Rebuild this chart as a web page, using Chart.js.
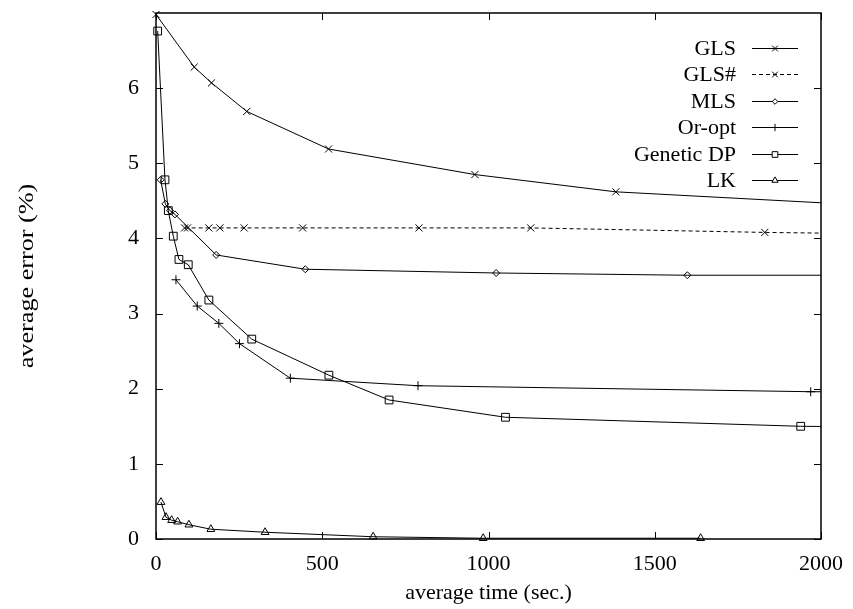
<!DOCTYPE html>
<html>
<head>
<meta charset="utf-8">
<script src="https://cdn.jsdelivr.net/npm/chart.js@4/dist/chart.umd.min.js"></script>
<style>
  html, body { margin: 0; padding: 0; background: #fff; }
  #wrap { width: 853px; height: 609px; }
</style>
</head>
<body>
<div id="wrap"><canvas id="c" width="853" height="609"></canvas></div>
<script>
// ---- data ----
const seriesNames = ['GLS', 'GLS#', 'MLS', 'Or-opt', 'Genetic DP', 'LK'];

const glsX = [0, 115, 167, 273, 519, 959, 1383, 2400];
const glsY = [6.98, 6.28, 6.07, 5.69, 5.19, 4.85, 4.62, 4.38];

const glsSharpX = [86, 95, 159, 192, 265, 441, 791, 1127, 1831, 2200];
const glsSharpY = [4.14, 4.14, 4.14, 4.14, 4.14, 4.14, 4.14, 4.14, 4.08, 4.06];

const mlsX = [14, 28, 42, 57, 181, 449, 1023, 1598, 2200];
const mlsY = [4.78, 4.46, 4.37, 4.32, 3.78, 3.59, 3.54, 3.51, 3.51];

const orOptX = [60, 124, 189, 251, 404, 788, 1969, 2200];
const orOptY = [3.45, 3.10, 2.87, 2.60, 2.14, 2.04, 1.96, 1.96];

const gdpX = [5, 27, 37, 52, 69, 97, 159, 288, 520, 701, 1051, 1939, 2200];
const gdpY = [6.76, 4.78, 4.37, 4.03, 3.72, 3.65, 3.18, 2.66, 2.18, 1.85, 1.62, 1.50, 1.49];

const lkX = [15, 30, 47, 65, 99, 165, 328, 653, 984, 1638];
const lkY = [0.49, 0.29, 0.25, 0.23, 0.19, 0.13, 0.09, 0.03, 0.01, 0.01];

const xTicks = [0, 500, 1000, 1500, 2000];
const yTicks = [0, 1, 2, 3, 4, 5, 6];

const xTitle = 'average time (sec.)';
const yTitle = 'average error (%)';

// ---- helpers ----
const FONT = '"Liberation Serif", "DejaVu Serif", serif';
const pts = (xs, ys) => xs.map((x, i) => ({ x: x, y: ys[i] }));

function ds(label, xs, ys, style, radius, dash) {
  return {
    label: label,
    data: pts(xs, ys),
    borderColor: '#000',
    backgroundColor: 'rgba(0,0,0,0)',
    borderWidth: 1,
    borderDash: dash || [],
    pointStyle: style,
    pointRadius: radius,
    pointHoverRadius: radius,
    pointBorderColor: '#000',
    pointBackgroundColor: 'rgba(0,0,0,0)',
    pointBorderWidth: 1,
    tension: 0,
    fill: false,
    clip: { left: 12, top: 12, right: 0, bottom: 12 }
  };
}

const datasets = [
  ds(seriesNames[0], glsX, glsY, 'crossRot', 5),
  ds(seriesNames[1], glsSharpX, glsSharpY, 'crossRot', 5, [4, 3]),
  ds(seriesNames[2], mlsX, mlsY, 'rectRot', 3.5),
  ds(seriesNames[3], orOptX, orOptY, 'cross', 4.5),
  ds(seriesNames[4], gdpX, gdpY, 'rect', 5.5),
  ds(seriesNames[5], lkX, lkY, 'triangle', 4.5)
];

// frame with inward ticks (gnuplot style)
const framePlugin = {
  id: 'frame',
  afterDatasetsDraw(chart) {
    const { ctx, chartArea: a, scales } = chart;
    const xs = scales.x, ys = scales.y;
    ctx.save();
    ctx.strokeStyle = '#000';
    ctx.lineWidth = 1.5;
    ctx.strokeRect(a.left, a.top, a.right - a.left, a.bottom - a.top);
    ctx.lineWidth = 1;
    ctx.beginPath();
    const TL = 7;
    xTicks.forEach(v => {
      const px = Math.round(xs.getPixelForValue(v)) + 0.5;
      ctx.moveTo(px, a.bottom); ctx.lineTo(px, a.bottom - TL);
      ctx.moveTo(px, a.top); ctx.lineTo(px, a.top + TL);
    });
    yTicks.forEach(v => {
      const py = Math.round(ys.getPixelForValue(v)) + 0.5;
      ctx.moveTo(a.left, py); ctx.lineTo(a.left + TL, py);
      ctx.moveTo(a.right, py); ctx.lineTo(a.right - TL, py);
    });
    ctx.stroke();
    ctx.restore();
  }
};

// y-axis title (rotated, slightly stretched along its length like the reference)
const yTitlePlugin = {
  id: 'yTitle',
  afterDraw(chart) {
    const { ctx, chartArea: a } = chart;
    ctx.save();
    ctx.translate(27, (a.top + a.bottom) / 2);
    ctx.rotate(-Math.PI / 2);
    ctx.scale(1.19, 1);
    ctx.font = '22px ' + FONT;
    ctx.fillStyle = '#000';
    ctx.textAlign = 'center';
    ctx.textBaseline = 'middle';
    ctx.fillText(yTitle, 0, 0);
    ctx.restore();
  }
};

// legend: text right-aligned, sample line with marker on the right
const legendPlugin = {
  id: 'gpLegend',
  afterDraw(chart) {
    const { ctx } = chart;
    const textRight = 736, x0 = 752, x1 = 798, yStart = 47.5, step = 26.5;
    ctx.save();
    ctx.font = '22px ' + FONT;
    ctx.textAlign = 'right';
    ctx.textBaseline = 'middle';
    chart.data.datasets.forEach((d, i) => {
      const y = Math.round(yStart + i * step) + 0.5;
      ctx.fillStyle = '#000';
      ctx.fillText(d.label, textRight, y + 1);
      ctx.strokeStyle = '#000';
      ctx.lineWidth = 1;
      ctx.setLineDash(d.borderDash || []);
      ctx.beginPath();
      ctx.moveTo(x0, y);
      ctx.lineTo(x1, y);
      ctx.stroke();
      ctx.setLineDash([]);
      ctx.fillStyle = '#fff';
      Chart.helpers.drawPoint(ctx, {
        pointStyle: d.pointStyle,
        radius: Math.min(d.pointRadius * 0.8, 4),
        rotation: 0,
        borderWidth: 1
      }, (x0 + x1) / 2, y);
    });
    ctx.restore();
  }
};

const noPad = s => { s.paddingTop = 0; s.paddingBottom = 0; s.paddingLeft = 0; s.paddingRight = 0; };

new Chart(document.getElementById('c'), {
  type: 'line',
  data: { datasets: datasets },
  plugins: [framePlugin, legendPlugin, yTitlePlugin],
  options: {
    responsive: false,
    animation: false,
    events: [],
    layout: { padding: { left: 0, top: 13, right: 32, bottom: 0 } },
    plugins: {
      legend: { display: false },
      tooltip: { enabled: false }
    },
    scales: {
      x: {
        type: 'linear',
        min: 0, max: 2000,
        afterBuildTicks: s => { s.ticks = xTicks.map(v => ({ value: v })); },
        afterFit: s => { s.height = 70; noPad(s); },
        grid: { display: false, drawTicks: false },
        border: { display: false },
        ticks: {
          padding: 12,
          color: '#000',
          font: { family: FONT, size: 22 },
          maxRotation: 0,
          callback: v => String(v)
        },
        title: {
          display: true,
          text: xTitle,
          color: '#000',
          font: { family: FONT, size: 22 },
          padding: { top: 0, bottom: 3 }
        }
      },
      y: {
        type: 'linear',
        min: 0, max: 7,
        afterBuildTicks: s => { s.ticks = yTicks.map(v => ({ value: v })); },
        afterFit: s => { s.width = 156; noPad(s); },
        grid: { display: false, drawTicks: false },
        border: { display: false },
        ticks: {
          padding: 17,
          color: '#000',
          font: { family: FONT, size: 22 },
          callback: v => String(v)
        },
        title: { display: false }
      }
    }
  }
});
</script>
</body>
</html>
